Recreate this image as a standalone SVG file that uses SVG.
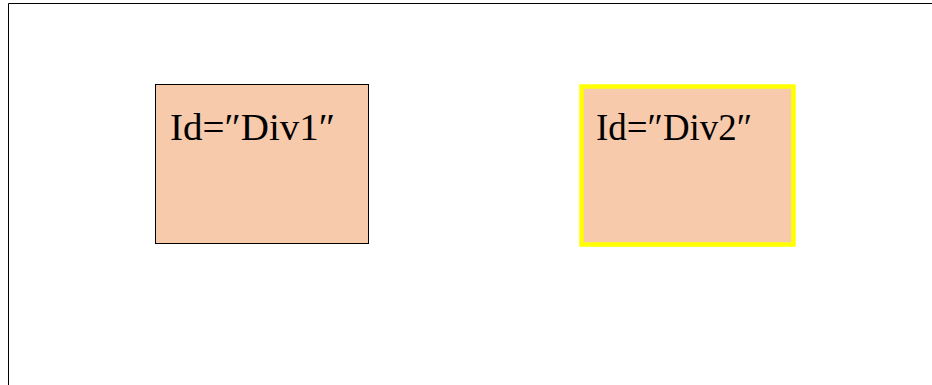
<svg xmlns="http://www.w3.org/2000/svg" width="932" height="385" viewBox="0 0 932 385">
  <style>
    .frame { fill: none; stroke: #000; stroke-width: 1; }
    .box { fill: #F7CAAC; }
    .plain { stroke: #000; stroke-width: 1; }
    .marked { stroke: #FFFF00; stroke-width: 4.5; }
    .label { font-family: "Liberation Serif", "DejaVu Serif", serif; font-size: 38px; fill: #000; }
  </style>
  <rect width="932" height="385" fill="#fff"/>
  <!-- outer frame: top and left edges -->
  <path class="frame" d="M8.5 385 V3.5 H932"/>
  <g id="div1">
    <rect class="box plain" x="155.5" y="84.5" width="213" height="159"/>
    <text class="label" x="170" y="140" textLength="165" lengthAdjust="spacingAndGlyphs">Id=″Div1″</text>
  </g>
  <g id="div2">
    <rect class="box marked" x="581.5" y="86.5" width="212" height="158"/>
    <text class="label" x="596" y="140" textLength="156" lengthAdjust="spacingAndGlyphs">Id=″Div2″</text>
  </g>
  <g id="connectors"/>
</svg>
